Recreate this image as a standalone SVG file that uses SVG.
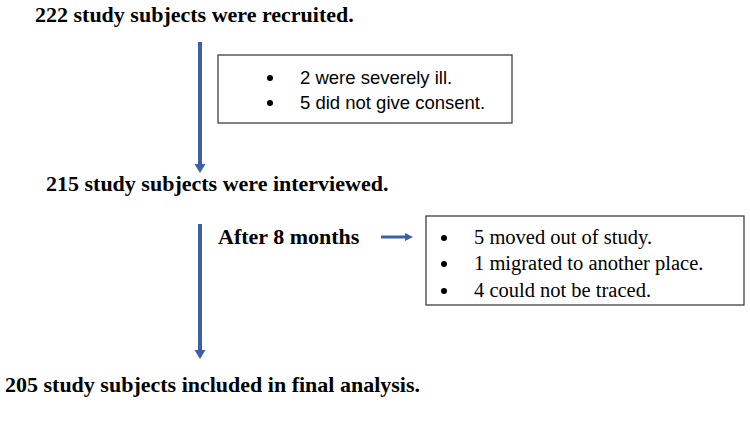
<svg xmlns="http://www.w3.org/2000/svg" width="750" height="424" viewBox="0 0 750 424">
<style>
.t{font-family:"Liberation Serif","Times New Roman",serif;font-weight:bold;font-size:22px;fill:#000}
.s{font-family:"Liberation Sans",Arial,sans-serif;font-size:18.5px;fill:#000}
.r{font-family:"Liberation Serif","Times New Roman",serif;font-size:20.5px;fill:#000}
.box{fill:#fff;stroke:#404040;stroke-width:1.3}
.ln{stroke:#3B60A6;stroke-width:4;fill:none}
</style>
<defs>
<marker id="ah" markerWidth="12" markerHeight="12" refX="2" refY="6" orient="auto" markerUnits="userSpaceOnUse">
<path d="M0,0.5 L9,6 L0,11.5 z" fill="#3B60A6"/>
</marker>
<marker id="ah2" markerWidth="10" markerHeight="10" refX="2" refY="5" orient="auto" markerUnits="userSpaceOnUse">
<path d="M0,1 L8,5 L0,9 z" fill="#3B60A6"/>
</marker>
</defs>
<rect width="750" height="424" fill="#fff"/>
<g id="n1"><text class="t" x="35" y="22">222 study subjects were recruited.</text></g>
<g id="n2"><rect class="box" x="218" y="55" width="294" height="68"/>
<circle cx="270" cy="78" r="3"/><circle cx="270" cy="103" r="3"/>
<text class="s" x="300" y="84">2 were severely ill.</text>
<text class="s" x="300" y="109">5 did not give consent.</text></g>
<g id="n3"><text class="t" x="46" y="191">215 study subjects were interviewed.</text></g>
<g id="n4"><text class="t" x="218" y="244">After 8 months</text></g>
<g id="n5"><rect class="box" x="426" y="216" width="318" height="89"/>
<circle cx="444" cy="238" r="3"/><circle cx="444" cy="264" r="3"/><circle cx="444" cy="291" r="3"/>
<text class="r" x="474" y="244">5 moved out of study.</text>
<text class="r" x="474" y="270">1 migrated to another place.</text>
<text class="r" x="474" y="297">4 could not be traced.</text></g>
<g id="n6"><text class="t" x="5" y="392">205 study subjects included in final analysis.</text></g>
<g id="connectors">
<line class="ln" x1="200" y1="42" x2="200" y2="166" marker-end="url(#ah)"/>
<line class="ln" x1="200" y1="224" x2="200" y2="352" marker-end="url(#ah)"/>
<line class="ln" x1="381" y1="237" x2="407" y2="237" style="stroke-width:3" marker-end="url(#ah2)"/>
</g>
</svg>
